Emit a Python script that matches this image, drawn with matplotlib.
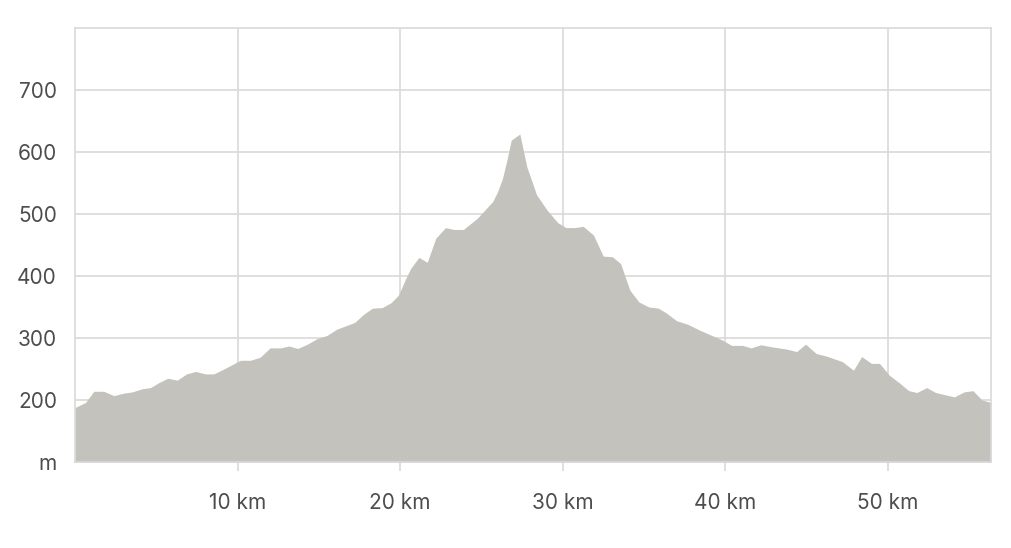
import matplotlib.pyplot as plt
from matplotlib.ticker import FixedLocator

plt.rcParams["font.family"] = ["Inter", "DejaVu Sans"]

# elevation profile, distance in km, elevation in m
DIST_KM = [
    0.0, 0.1, 0.65, 1.16, 1.77, 2.39, 3.0, 3.52, 4.13, 4.65, 5.16, 5.71, 6.29,
    6.86, 7.42, 8.03, 8.54, 9.16, 9.67, 10.18, 10.8, 11.4, 12.0, 12.65, 13.16,
    13.7, 14.3, 14.9, 15.5, 16.1, 17.2, 17.8, 18.3, 18.9, 19.45, 19.9, 20.3,
    20.65, 21.16, 21.67, 22.2, 22.8, 23.3, 23.9, 24.75, 25.7, 26.0, 26.3, 26.55,
    26.84, 27.37, 27.8, 28.4, 29.05, 29.7, 30.2, 30.7, 31.27, 31.9, 32.5, 33.06,
    33.57, 34.14, 34.7, 35.3, 35.9, 36.4, 37.0, 37.7, 38.4, 39.1, 39.8, 40.4,
    41.06, 41.6, 42.2, 42.8, 43.8, 44.4, 44.95, 45.6, 46.2, 47.2, 47.9, 48.4,
    49.0, 49.5, 50.1, 50.7, 51.3, 51.8, 52.4, 52.95, 53.6, 54.1, 54.7, 55.25,
    55.8, 56.35,
]
ELEV_M = [
    188, 189, 196, 214, 214, 207, 211, 213, 218, 220, 228, 235, 232,
    242, 246, 242, 242, 250, 257, 264, 264, 269, 284, 284, 287,
    283, 290, 299, 304, 314, 325, 339, 348, 349, 357, 369, 393,
    412, 430, 422, 461, 478, 475, 475, 493, 520, 536, 557, 584,
    619, 629, 576, 531, 506, 486, 478, 478, 480, 466, 432, 431,
    420, 377, 358, 350, 348, 340, 328, 322, 313, 305, 297, 288,
    288, 284, 289, 286, 282, 278, 290, 275, 271, 262, 248, 270,
    259, 259, 240, 228, 215, 212, 220, 212, 208, 205, 213, 215,
    200, 196,
]

X_TICKS = [10, 20, 30, 40, 50]
X_LABELS = ["10 km", "20 km", "30 km", "40 km", "50 km"]
Y_TICKS = [100, 200, 300, 400, 500, 600, 700]
Y_LABELS = ["m", "200", "300", "400", "500", "600", "700"]

FILL = "#c3c2bd"
GRID = "#d9d9d9"
TEXT = "#4d4d4d"

fig = plt.figure(figsize=(10.12, 5.48), dpi=100)
ax = fig.add_axes([0.0741, 0.157, 0.905, 0.792])

ax.fill_between(DIST_KM, 100, ELEV_M, color=FILL, linewidth=0, zorder=2)

ax.set_xlim(0, 56.35)
ax.set_ylim(100, 800)

ax.xaxis.set_major_locator(FixedLocator(X_TICKS))
ax.set_xticklabels(X_LABELS)
ax.yaxis.set_major_locator(FixedLocator(Y_TICKS))
ax.set_yticklabels(Y_LABELS)

ax.grid(True, color=GRID, linewidth=1.2, zorder=1)
ax.set_axisbelow(True)

for side in ["left", "top", "right", "bottom"]:
    ax.spines[side].set_color(GRID)
    ax.spines[side].set_linewidth(1.2)

ax.tick_params(axis="x", length=6.5, width=1.2, color=GRID, pad=16,
               labelsize=15, labelcolor=TEXT)
ax.tick_params(axis="y", length=0, pad=13, labelsize=15, labelcolor=TEXT)

plt.savefig("out.png", dpi=100)
